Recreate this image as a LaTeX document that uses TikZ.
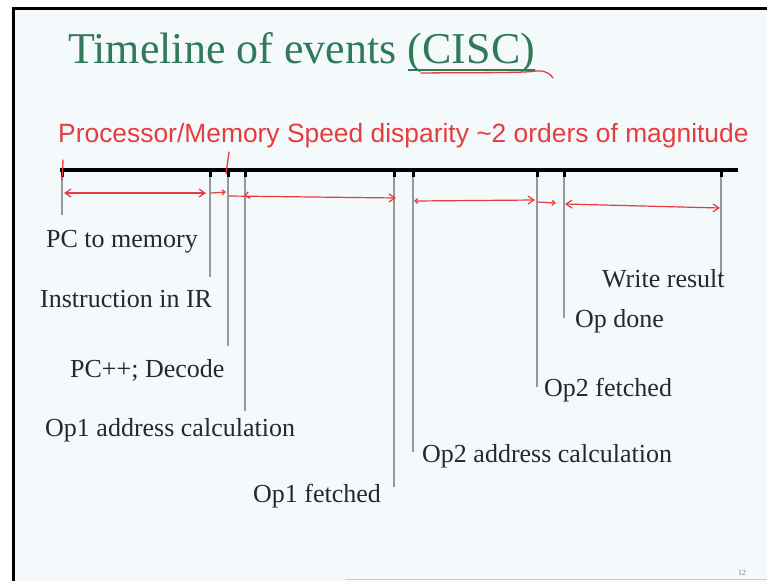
\documentclass[tikz,border=0pt]{standalone}
\usepackage{fontspec}
\setmainfont{Liberation Serif}
\newfontfamily\subfont{Liberation Sans}
\usetikzlibrary{arrows.meta}
\definecolor{slidebg}{RGB}{244,249,252}
\definecolor{titlegreen}{RGB}{48,122,90}
\definecolor{inkred}{RGB}{230,60,62}
\definecolor{leadgray}{RGB}{150,152,154}
\definecolor{labelink}{RGB}{40,40,40}
\begin{document}
\begin{tikzpicture}[x=1pt,y=-1pt,
  evlabel/.style={font=\fontsize{26}{26}\selectfont, text=labelink, inner sep=0pt, anchor=base west},
  lead/.style={draw=leadgray, line width=1.8pt},
  tickmark/.style={draw=black, line width=3pt},
  barb/.tip={Straight Barb[length=6pt,width=8pt,line width=1.2pt]},
  smallbarb/.tip={Straight Barb[length=3pt,width=5pt,line width=1.2pt]},
  span/.style={draw=inkred, line width=1.2pt, line cap=round},
  redmark/.style={draw=inkred, line width=1.3pt, line cap=round}
]
% page and slide area
\useasboundingbox (0,0) rectangle (767,581);
\fill[white] (0,0) rectangle (767,581);
\fill[slidebg] (13,9) rectangle (767,581);
\draw[black, line width=3pt] (13.5,8.5) -- (13.5,581);
\draw[black, line width=2.5pt] (12,8.5) -- (767,8.5);
\draw[gray!40, line width=1pt] (345,579) -- (767,579);

% title
\node[font=\fontsize{44}{44}\selectfont, text=titlegreen, inner sep=0pt, anchor=base west]
  (title) at (68,63) {Timeline of events};
\node[font=\fontsize{44}{44}\selectfont, text=titlegreen, inner sep=0pt, anchor=base west]
  (cisc) at ([xshift=11pt]title.base east) {(CISC)};
\draw[titlegreen, line width=1.3pt] ([yshift=-7pt]cisc.base west) -- ([yshift=-7pt]cisc.base east);
\draw[redmark] (421,73) .. controls (470,72.5) and (515,73) .. (532,71.5)
  .. controls (542,70) and (548,71) .. (553,78);

% subtitle
\node[font=\subfont\fontsize{26.4}{26.4}\selectfont, text=inkred, inner sep=0pt, anchor=base west]
  (disparity) at (58,142) {Processor/Memory Speed disparity \char"007E 2 orders of magnitude};

% time axis
\coordinate (axisL) at (60,170);
\coordinate (axisR) at (738,170);
\draw[black, line width=4.5pt] (axisL) -- (axisR);

% event ticks and their lead lines
\foreach \name/\x/\yend in {t1/62/215, t2/210/277, t3/228/346, t4/245/411, t5/394/487,
                            t6/413/452, t7/537/387, t8/564/318, t9/721/277}{
  \coordinate (\name) at (\x,170);
  \coordinate (\name e) at (\x,\yend);
  \draw[lead] (\name) -- (\name e);
  \draw[tickmark] (\name) -- ++(0,7);
}

% event labels
\node[evlabel] (l1) at (46,247) {PC to memory};
\node[evlabel] (l2) at (40,307) {Instruction in IR};
\node[evlabel] (l3) at (70,377) {PC++; Decode};
\node[evlabel] (l4) at (45,436) {Op1 address calculation};
\node[evlabel] (l5) at (253,502) {Op1 fetched};
\node[evlabel] (l6) at (422,462) {Op2 address calculation};
\node[evlabel] (l7) at (544,396) {Op2 fetched};
\node[evlabel] (l8) at (575,327) {Op done};
\node[evlabel] (l9) at (602,287) {Write result};

% hand-drawn span arrows
\coordinate (a1s) at (64,193);  \coordinate (a1e) at (206,193);
\coordinate (a2s) at (211,193); \coordinate (a2e) at (226,192);
\coordinate (a3s) at (229,196); \coordinate (a3e) at (396,198);
\coordinate (a4s) at (414,201); \coordinate (a4e) at (535,200);
\coordinate (a5s) at (538,202); \coordinate (a5e) at (556,203);
\coordinate (a6s) at (565,204); \coordinate (a6e) at (720,208);
\draw[span, barb-barb] (a1s) -- (a1e);
\draw[span, -smallbarb] (a2s) -- (a2e);
\draw[span, -barb] (a3s) -- (a3e);
\draw[redmark] (248,192) -- (245,196) -- (250,198);
\draw[span, smallbarb-barb] (a4s) -- (a4e);
\draw[span, -smallbarb] (a5s) -- (a5e);
\draw[span, barb-barb] (a6s) -- (a6e);

% marks bracketing the speed-disparity span
\draw[redmark] (63,160) -- (62,180);
\draw[redmark] (229,152) -- (226,174);

% slide number
\node[font=\fontsize{8}{8}\selectfont, text=gray, inner sep=0pt] (pageno) at (742,573) {12};
\end{tikzpicture}
\end{document}
